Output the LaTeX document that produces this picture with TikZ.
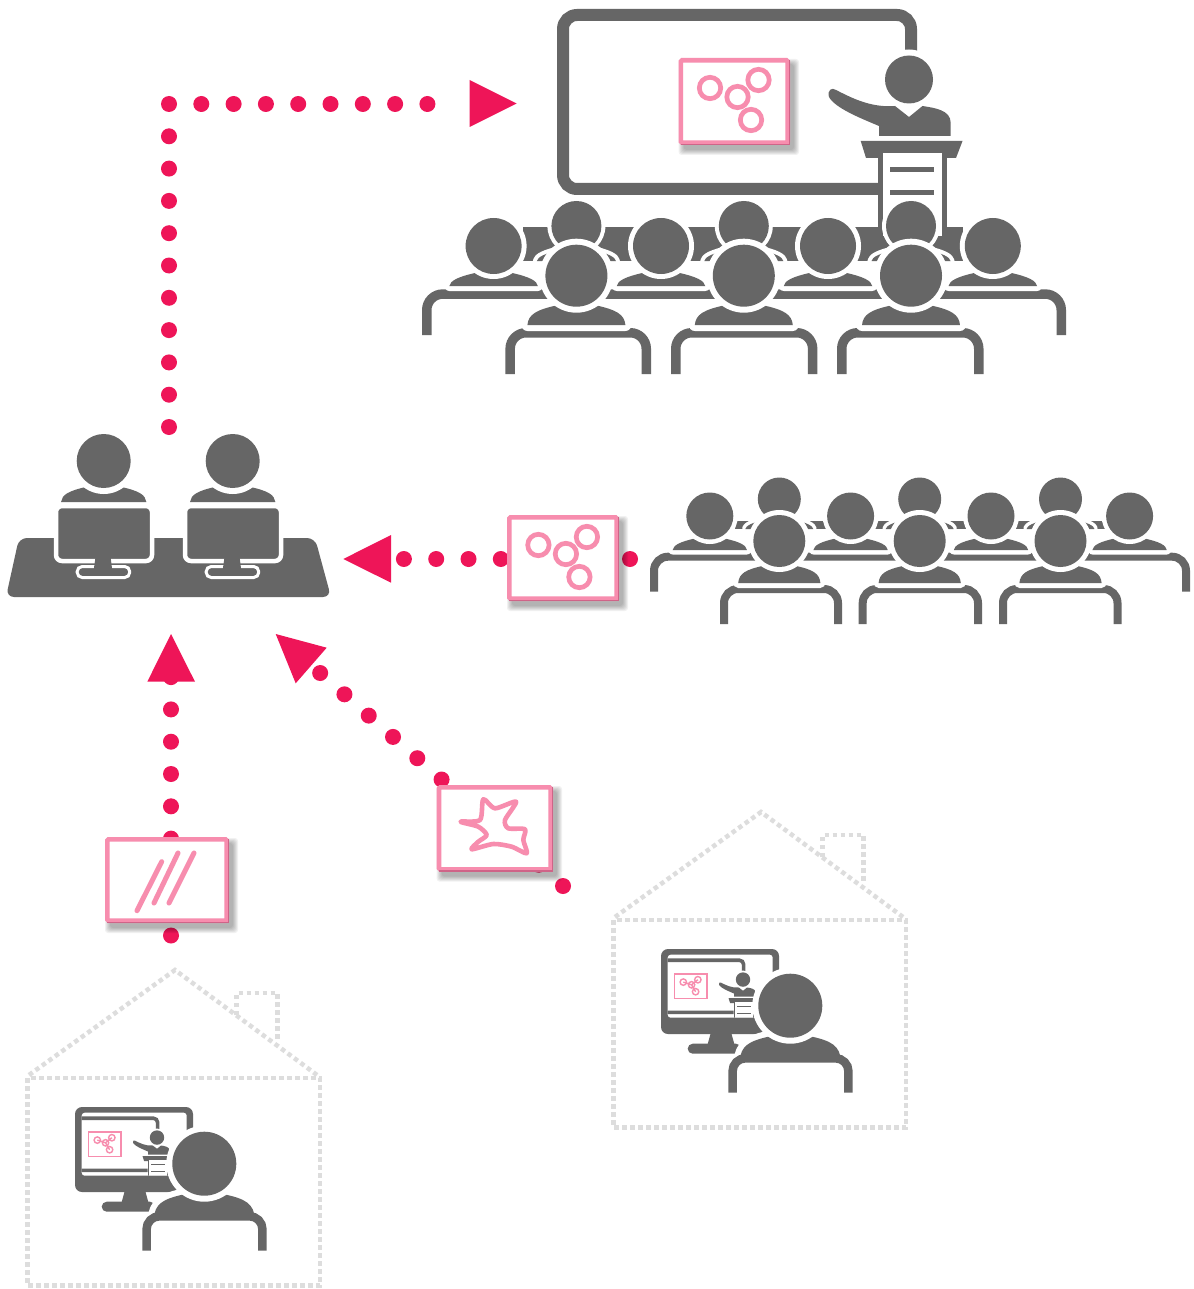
\documentclass[tikz,border=0pt]{standalone}
\definecolor{grayc}{HTML}{666666}
\definecolor{dotc}{HTML}{EE1558}
\definecolor{cardc}{HTML}{F78DAE}
\definecolor{cardd}{HTML}{CF6488}
\definecolor{housec}{HTML}{DDDDDD}
\tikzset{
  conn/.style={draw=dotc,line width=16pt,line cap=round,dash pattern=on 0pt off 32.3pt},
  tipfill/.style={fill=dotc},
  gfill/.style={fill=grayc},
  cardbox/.style={draw=cardc,fill=white,line width=4.6pt,inner sep=0pt,rounded corners=1.2pt},
  ringline/.style={draw=cardc,line width=4.7pt},
  hatchline/.style={draw=cardc,line width=5pt,line cap=round},
  houseline/.style={draw=housec,line width=4.5pt,dash pattern=on 4.5pt off 3.5pt}
}
% card with soft shadow: name, x0, y0, x1, y1
\newcommand\pinkcard[5]{%
  \foreach \s in {5,4,3,2,1,0}{%
    \fill[black,opacity=.055,rounded corners=3pt] ({#2+5-\s},{#3+6-\s}) rectangle ({#4+4+\s},{#5+5+\s});}
  \pgfmathsetmacro\cw{#4-#2-4.6}\pgfmathsetmacro\ch{#5-#3-4.6}
  \node[cardbox,minimum width=\cw pt,minimum height=\ch pt] (#1) at ({(#2+#4)/2},{(#3+#5)/2}) {};
  \draw[cardd,line width=1.3pt] ({#4-.6},{#3+2}) -- ({#4-.6},{#5-.6}) -- ({#2+2},{#5-.6});
}
% the four rings, relative to the card corner
\newcommand\rings[2]{%
  \draw[ringline] (#1+31.4,#2+30) circle (10.7);
  \draw[ringline] (#1+58.9,#2+39) circle (10.7);
  \draw[ringline] (#1+79.9,#2+22) circle (10.7);
  \draw[ringline] (#1+72.4,#2+62) circle (10.7);
}
% person: x, y, head radius, halo, y of shoulder bottom
\newcommand\person[5]{%
  \pgfmathsetmacro\hh{(#5-#2)/#3}
  \begin{scope}[shift={(#1,#2)},scale=#3]
    \filldraw[draw=white,fill=grayc,line width=#4*2pt,line join=round] (-1.58,\hh) .. controls (-1.55,1.25) and (-1.3,1.1) .. (-0.6,0.95) -- (0.6,0.95) .. controls (1.3,1.1) and (1.55,1.25) .. (1.58,\hh) -- cycle;
    \fill[gfill] (-1.58,\hh) .. controls (-1.55,1.25) and (-1.3,1.1) .. (-0.6,0.95) -- (0.6,0.95) .. controls (1.3,1.1) and (1.55,1.25) .. (1.58,\hh) -- cycle;
  \end{scope}
  \fill[white] (#1,#2) circle ({#3+#4});
  \fill[gfill] (#1,#2) circle (#3);
}
% desk: x0, x1, ytop, ybot, width, radius
\newcommand\desk[6]{%
  \draw[grayc,line width=#5pt,rounded corners=#6pt] ({#1+#5/2},#4) -- ({#1+#5/2},{#3+#5/2}) -- ({#2-#5/2},{#3+#5/2}) -- ({#2-#5/2},#4);
}
% presenter at full-size coordinates, #1 = line scale
\newcommand\presenter[1]{%
  \draw[grayc,line width=#1*12pt,rounded corners=#1*14pt] (878,189) -- (563,189) -- (563,15) -- (911,15) -- (911,58);
  \fill[white] (909,79.5) circle (30);
  \fill[gfill] (895,106) -- (909,117) -- (922.5,106) .. controls (935,108) and (950.7,110) .. (950.7,123) -- (950.7,136) -- (879,136) -- (879,126) .. controls (860,118) and (835,108) .. (829,97) .. controls (827,90) and (832,87) .. (836,90) .. controls (850,97) and (870,108) .. (895,106) -- cycle;
  \fill[gfill] (909,79.5) circle (24);
  \fill[gfill] (860.7,141) -- (962.5,141) -- (956,158) -- (866,158) -- cycle;
  \fill[gfill] (877.5,153) rectangle (946.5,236);
  \fill[white] (882.6,153) rectangle (941.5,236);
  \fill[gfill] (890,167.5) rectangle (934,172.5);
  \fill[gfill] (890,190.5) rectangle (934,195.5);
}
% house scene
\newcommand\homescene[3]{%
  \begin{scope}[shift={(#1,#2)}]
    \draw[houseline] (27.7,1078) rectangle (320,1285.7);
    \draw[houseline] (29,1075) -- (175,970) -- (317,1075);
    \draw[houseline] (236.7,1015) -- (236.7,993) -- (277.7,993) -- (277.7,1042);
    \coordinate (#3roof) at (175,970);
    \fill[gfill,rounded corners=7pt] (75,1107) rectangle (193,1192);
    \fill[white,rounded corners=3pt] (81.7,1112.7) rectangle (186.7,1175.7);
    \begin{scope}
      \clip[rounded corners=3pt] (81.7,1112.7) rectangle (186.7,1175.7);
      \begin{scope}[shift={(-115.7,1113.7)},scale=.3]
        \presenter{.3}
        \draw[cardc,line width=1.6pt] (681,60) rectangle (788,143);
        \begin{scope}[shift={(678.6,58)}]
          \draw[cardc,line width=1.4pt] (31.4,30) circle (10.7) (58.9,39) circle (10.7) (79.9,22) circle (10.7) (72.4,62) circle (10.7);
          \draw[cardc,line width=1.4pt] (31.4,30) -- (58.9,39) -- (79.9,22) (58.9,39) -- (72.4,62);
        \end{scope}
      \end{scope}
    \end{scope}
    \fill[gfill] (125,1190) -- (145,1190) -- (148.3,1202) -- (121.7,1202) -- cycle;
    \fill[gfill,rounded corners=5pt] (101.7,1201.7) rectangle (155,1211.7);
    \draw[white,line width=12pt,rounded corners=12pt] (146.5,1251) -- (146.5,1220) -- (262.5,1220) -- (262.5,1251);
    \person{204.3}{1163.7}{32}{6}{1219}
    \desk{142.3}{266.7}{1212}{1250.7}{8.5}{13}
  \end{scope}
}
\newcommand\workstation[2]{%
  \person{#1}{461}{27}{6}{502}
  \begin{scope}[shift={(#1,0)}]
    \draw[white,line width=3pt,fill=grayc,rounded corners=5pt] (-26.5,566.5) rectangle (26,577.5);
    \node[draw=white,fill=grayc,line width=4.5pt,rounded corners=6pt,inner sep=0pt,minimum width=96pt,minimum height=55pt] (#2) at (.3,533.5) {};
    \fill[gfill] (-8.3,558) -- (7,558) -- (8.5,570) -- (-10,570) -- cycle;
  \end{scope}
}
\begin{document}
\begin{tikzpicture}[x=1pt,y=-1pt]
\useasboundingbox (0,0) rectangle (1193,1289);
\fill[white] (0,0) rectangle (1193,1289);
% connector ends
\coordinate (tableTop) at (169,427);
\coordinate (corner) at (169,104);
\coordinate (boardEnd) at (459.5,104);
\coordinate (roomStart) at (630,559);
\coordinate (tableRight) at (402,559);
\coordinate (homeAStart) at (171,935.5);
\coordinate (tableBottom) at (171,677);
\coordinate (homeBStart) at (563,886);
\coordinate (tableDiag) at (319,672);
\draw[conn] (tableTop) -- (corner) -- (boardEnd);
\draw[conn] (roomStart) -- (tableRight);
\draw[conn] (homeAStart) -- (tableBottom);
\draw[conn] (homeBStart) -- (tableDiag);
% arrowheads
\fill[tipfill] (469.6,80) -- (516.7,103.5) -- (469.6,127) -- cycle;
\fill[tipfill] (391,535) -- (343.3,559) -- (391,582.7) -- cycle;
\fill[tipfill] (147.3,681.7) -- (171,634) -- (195,681.7) -- cycle;
\fill[tipfill] (326.7,647.7) -- (275.7,634) -- (295.7,683.3) -- cycle;

% lecture hall
\presenter{1}
\pinkcard{cardHall}{678.6}{58}{790}{145}
\rings{678.6}{58}
\fill[gfill] (523,226.7) rectangle (962.5,261);
\fill[gfill] (877.5,190) rectangle (946.5,236);
\fill[white] (882.6,190) rectangle (941.5,236);
\fill[gfill] (890,190.5) rectangle (934,195.5);
\person{576.4}{226}{25}{4}{261}
\person{743.8}{226}{25}{4}{261}
\person{911}{226}{25}{4}{261}
\desk{422}{1066}{289.3}{335}{9.5}{16}
\person{493.6}{246}{28}{5}{286}
\person{661}{246}{28}{5}{286}
\person{828}{246}{28}{5}{286}
\person{992.8}{246}{28}{5}{286}
\desk{505.4}{651}{328}{374}{9.5}{16}
\desk{671}{817.4}{328}{374}{9.5}{16}
\desk{837}{983.5}{328}{374}{9.5}{16}
\person{576.4}{275.7}{31}{6}{325}
\person{743.8}{275.7}{31}{6}{325}
\person{911}{275.7}{31}{6}{325}

% table
\fill[gfill,rounded corners=8pt] (19,538) -- (315,538) -- (331,597) -- (6,597) -- cycle;
\workstation{103.7}{monA}
\workstation{232.7}{monB}

% small audience
\fill[gfill] (735,520.7) rectangle (1105.6,529.3);
\person{779.3}{499}{21.5}{3.5}{529}
\person{919.7}{499}{21.5}{3.5}{529}
\person{1060.5}{499}{21.5}{3.5}{529}
\desk{650}{1190}{552.7}{591.7}{8}{14}
\person{709.8}{516}{23.5}{4.5}{550}
\person{850.6}{516}{23.5}{4.5}{550}
\person{991}{516}{23.5}{4.5}{550}
\person{1129.6}{516}{23.5}{4.5}{550}
\desk{720}{842}{585}{624}{8}{14}
\desk{858.7}{982}{585}{624}{8}{14}
\desk{999}{1121.5}{585}{624}{8}{14}
\person{779.3}{541}{26}{5}{583}
\person{919.7}{541}{26}{5}{583}
\person{1060.5}{541}{26}{5}{583}

% cards on connectors
\pinkcard{cardRoom}{507}{515}{619}{601}
\rings{507}{515}
\pinkcard{cardHatch}{105}{837}{229}{923}
\draw[hatchline] (161.7,861.7) -- (137,910.7);
\draw[hatchline] (178,853) -- (154,903);
\draw[hatchline] (194,853) -- (169,903);
\pinkcard{cardStar}{436.7}{785}{553}{871.7}
\draw[cardc,line width=4.6pt,line join=round] plot[smooth cycle,tension=.45] coordinates {(483.3,799.3) (495,808.3) (516,801.7) (505,820) (508.3,828.3) (525,829.3) (523.3,840) (526.7,853.3) (511.7,846.7) (493.3,844) (471.7,849.3) (478.3,841.7) (486.7,835) (478.3,826.7) (460.7,821.7) (480,820)};

% homes
\homescene{0}{0}{homeA}
\homescene{586}{-158}{homeB}
\end{tikzpicture}
\end{document}
